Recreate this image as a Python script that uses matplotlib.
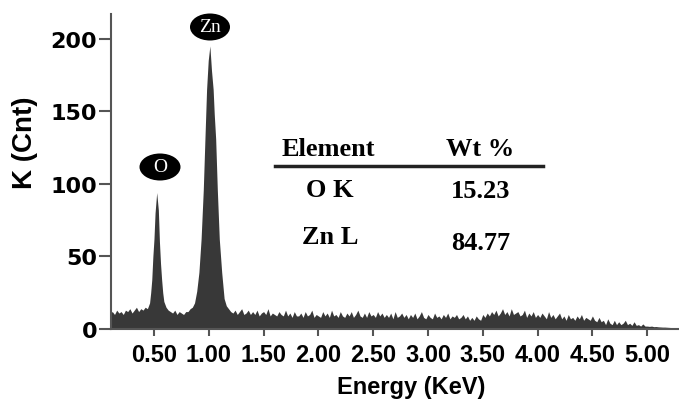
import numpy as np
import matplotlib.pyplot as plt
from matplotlib.patches import Ellipse
from matplotlib.lines import Line2D

# EDS spectrum (energy in keV, counts in K)
peak_energy = [0.10, 0.12, 0.14, 0.16, 0.18, 0.20, 0.22, 0.24, 0.26, 0.28, 0.30,
               0.32, 0.34, 0.36, 0.38,
               0.40, 0.42, 0.44, 0.46, 0.47, 0.48, 0.49, 0.50, 0.51, 0.525,
               0.54, 0.55, 0.56, 0.57, 0.58, 0.59, 0.61, 0.63, 0.65,
               0.67, 0.69, 0.71, 0.73, 0.75, 0.77, 0.79,
               0.81, 0.83, 0.85, 0.87, 0.89, 0.91, 0.93, 0.95, 0.965, 0.98,
               0.995, 1.01, 1.025, 1.04, 1.05, 1.063, 1.078, 1.096, 1.118,
               1.14, 1.16, 1.18, 1.20]
peak_counts = [11, 12, 10, 13, 11, 12, 10, 13, 12, 14, 11,
               13, 15, 12, 14,
               13, 15, 14, 18, 25, 34, 50, 62, 80, 94,
               82, 60, 45, 34, 25, 19, 15, 13, 12,
               11, 13, 10, 12, 11, 10, 12,
               12, 14, 15, 18, 26, 39, 62, 96, 131, 165,
               185, 195, 178, 165, 148, 131, 96, 62, 39,
               21, 16, 14, 12]

tail_energy = np.round(np.arange(1.22, 5.301, 0.02), 2)
tail_counts = [11, 13, 10, 12, 14, 10, 11, 13, 10, 12,
               10, 13, 9, 11, 12, 10, 14, 9, 11, 10,
               9, 12, 10, 9, 13, 9, 11, 8, 12, 9,
               9, 11, 8, 12, 9, 10, 13, 8, 10, 9,
               8, 12, 9, 11, 8, 13, 9, 10, 8, 12,
               9, 8, 11, 9, 12, 8, 10, 13, 9, 8,
               11, 8, 12, 9, 10, 8, 12, 9, 11, 8,
               10, 8, 11, 7, 12, 8, 9, 11, 8, 10,
               7, 10, 8, 11, 7, 9, 12, 8, 7, 10,
               8, 7, 11, 8, 9, 7, 10, 8, 11, 7,
               9, 8, 10, 7, 8, 10, 7, 9, 6, 8,
               6, 9, 7, 6, 10, 8, 11, 9, 12, 10,
               13, 9, 11, 14, 10, 12, 9, 14, 10, 11,
               12, 9, 10, 13, 8, 11, 9, 12, 8, 10,
               8, 11, 9, 7, 12, 8, 10, 7, 9, 11,
               7, 9, 6, 10, 7, 8, 6, 9, 7, 10,
               6, 8, 7, 6, 9, 6, 5, 8, 5, 6,
               3, 7, 4, 3, 6, 3, 5, 3, 4, 6,
               3, 4, 2.5, 5, 2.5, 3, 2, 3.5, 2, 2,
               1.8, 2, 1.6, 1.7, 1.5, 1.4, 1.3, 1.3, 1.2, 1.1,
               1.0, 0.9, 0.8, 0.7, 0.6]

x_ticks = [0.5, 1.0, 1.5, 2.0, 2.5, 3.0, 3.5, 4.0, 4.5, 5.0]
y_ticks = [0, 50, 100, 150, 200]

table_header = ["Element", "Wt %"]
table_elements = ["O K", "Zn L"]
table_wt = ["15.23", "84.77"]

energy = np.concatenate([peak_energy, tail_energy])
counts = np.concatenate([peak_counts, tail_counts])

W, H = 679, 402


def fx(px):
    return px / W


def fy(py):
    return 1 - py / H


fig = plt.figure(figsize=(W / 100, H / 100), dpi=100)
ax = fig.add_axes([fx(111), fy(330), fx(679) - fx(111), fy(15) - fy(330)])

ax.fill_between(energy, 0, counts, color='#383838', linewidth=0)
ax.set_xlim(0.108, 5.29)
ax.set_ylim(0, 217)

for s in ['top', 'right']:
    ax.spines[s].set_visible(False)
for s in ['left', 'bottom']:
    ax.spines[s].set_color('#555555')
    ax.spines[s].set_linewidth(1.5)

ax.set_xticks(x_ticks)
ax.set_xticklabels(["%.2f" % t for t in x_ticks],
                   fontfamily='Liberation Sans', fontweight='bold', fontsize=17)
ax.set_yticks(y_ticks)
ax.set_yticklabels([str(t) for t in y_ticks],
                   fontfamily='DejaVu Sans', fontweight='bold', fontsize=16)
ax.tick_params(axis='x', length=5, width=1.5, color='#555555', pad=5)
ax.tick_params(axis='y', length=9, width=1.5, color='#555555', pad=1)

ax.set_xlabel("Energy (KeV)", fontfamily='Liberation Sans', fontweight='bold', fontsize=17)
ax.set_ylabel("K (Cnt)", fontfamily='Liberation Sans', fontweight='bold', fontsize=20)
ax.xaxis.set_label_coords(0.528, -0.146)
ax.yaxis.set_label_coords(-0.128, 0.594)

# peak labels in black ellipses
for name, cx, cy, w, h in [("O", 160, 168, 41, 27), ("Zn", 210, 28, 40, 27)]:
    e = Ellipse((fx(cx), fy(cy)), w / W, h / H, transform=fig.transFigure,
                facecolor='black', edgecolor='none')
    fig.add_artist(e)
    fig.text(fx(cx), fy(cy), name, color='white', fontfamily='Liberation Serif',
             fontsize=14, ha='center', va='center')

# composition table
tfont = dict(fontfamily='Liberation Serif', fontweight='bold', ha='center', va='center')
fig.text(fx(328), fy(150), table_header[0], fontsize=19, **tfont)
fig.text(fx(480), fy(150), table_header[1], fontsize=19, **tfont)
fig.add_artist(Line2D([fx(275), fx(543)], [fy(167), fy(167)], color='#222222',
                      linewidth=2.5, transform=fig.transFigure))
for i, (el, wt) in enumerate(zip(table_elements, table_wt)):
    yy = [191, 238][i]
    fig.text(fx(330), fy(yy), el, fontsize=19, **tfont)
    fig.text(fx(481), fy(yy + 1 + 5 * i), wt, fontsize=19, **tfont)

fig.savefig("out.png", dpi=100)
